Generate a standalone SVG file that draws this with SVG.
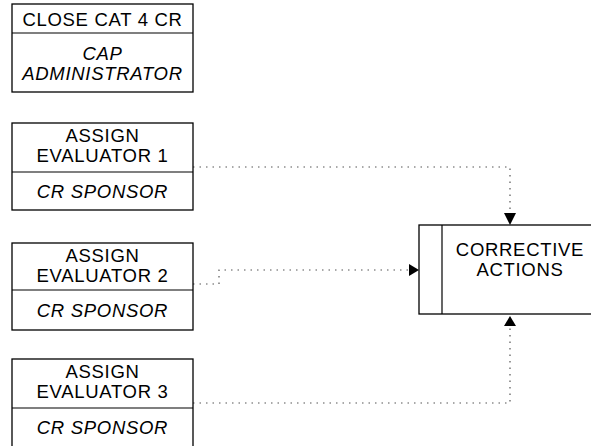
<svg xmlns="http://www.w3.org/2000/svg" width="591" height="446" viewBox="0 0 591 446">
<style>
.box{fill:#fff;stroke:#000;stroke-width:1.3}
.div{stroke:#000;stroke-width:1.2}
.t{font-family:"Liberation Sans",Arial,sans-serif;font-size:18.5px;letter-spacing:0.7px;fill:#000;text-anchor:middle}
.i{font-style:italic}
.dot{fill:none;stroke:#555;stroke-width:1.2;stroke-dasharray:1.5 5}
</style>
<g id="connectors">
<polyline class="dot" points="193,167 510,167 510,214"/>
<polyline class="dot" points="193,284 219,284 219,270 408,270"/>
<polyline class="dot" points="193,403 510,403 510,327"/>
<path d="M504,213 L516,213 L510,225 Z" fill="#000"/>
<path d="M409,264 L409,276 L419,270 Z" fill="#000"/>
<path d="M504,326 L516,326 L510,316 Z" fill="#000"/>
</g>
<g id="close-cat4">
<rect class="box" x="12" y="4" width="181" height="88"/>
<line class="div" x1="12" y1="33" x2="193" y2="33"/>
<text class="t" x="102.5" y="26">CLOSE CAT 4 CR</text>
<text class="t i" x="102.5" y="60">CAP</text>
<text class="t i" x="102.5" y="80">ADMINISTRATOR</text>
</g>
<g id="assign-eval-1">
<rect class="box" x="12" y="123" width="181" height="87"/>
<line class="div" x1="12" y1="172" x2="193" y2="172"/>
<text class="t" x="102.5" y="142">ASSIGN</text>
<text class="t" x="102.5" y="162">EVALUATOR 1</text>
<text class="t i" x="102.5" y="198">CR SPONSOR</text>
</g>
<g id="assign-eval-2">
<rect class="box" x="12" y="243" width="181" height="87"/>
<line class="div" x1="12" y1="290" x2="193" y2="290"/>
<text class="t" x="102.5" y="262">ASSIGN</text>
<text class="t" x="102.5" y="282">EVALUATOR 2</text>
<text class="t i" x="102.5" y="317">CR SPONSOR</text>
</g>
<g id="assign-eval-3">
<rect class="box" x="12" y="359" width="181" height="100"/>
<line class="div" x1="12" y1="408" x2="193" y2="408"/>
<text class="t" x="102.5" y="378">ASSIGN</text>
<text class="t" x="102.5" y="398">EVALUATOR 3</text>
<text class="t i" x="102.5" y="434">CR SPONSOR</text>
</g>
<g id="corrective-actions">
<rect class="box" x="419" y="225" width="180" height="89"/>
<line class="div" x1="442" y1="225" x2="442" y2="314"/>
<text class="t" x="520" y="256">CORRECTIVE</text>
<text class="t" x="520" y="276">ACTIONS</text>
</g>
</svg>
